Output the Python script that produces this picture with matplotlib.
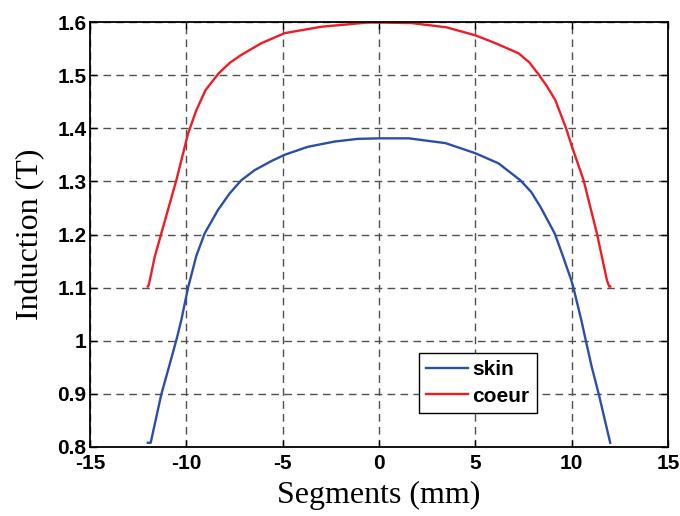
import numpy as np
import matplotlib
matplotlib.use('Agg')
import matplotlib.pyplot as plt

plt.rcParams['axes.unicode_minus'] = False

# induction profiles across the segment
x_coeur = [-12, -11.95, -11.64, -11.3, -10.52, -9.91, -9.48, -9.0, -8.33, -7.75, -7.15, -6.11,
           -4.9, -3.0, -0.6, 0, 1.7, 3.5, 5.0, 6.05, 7.25, 7.8, 8.25, 8.7, 9.15, 9.7, 10.02,
           10.62, 11.31, 11.83, 11.95, 12]
y_coeur = [1.102, 1.105, 1.158, 1.202, 1.302, 1.390, 1.434, 1.472, 1.503, 1.523, 1.538, 1.560,
           1.579, 1.591, 1.599, 1.599, 1.598, 1.590, 1.575, 1.560, 1.541, 1.524, 1.503, 1.480,
           1.453, 1.401, 1.365, 1.302, 1.202, 1.114, 1.102, 1.102]

x_skin = [-12, -11.85, -11.3, -10.9, -10.52, -10.26, -9.91, -9.48, -9.05, -8.36, -7.76, -7.15,
          -6.46, -5.6, -4.9, -3.7, -2.3, -1.1, 0, 1.55, 3.45, 5.0, 6.2, 7.34, 7.9, 8.38, 9.12,
          9.5, 9.98, 10.09, 10.5, 10.73, 11.04, 11.41, 12]
y_skin = [0.808, 0.808, 0.899, 0.951, 1.001, 1.039, 1.100, 1.160, 1.202, 1.246, 1.277, 1.302,
          1.321, 1.338, 1.350, 1.365, 1.375, 1.380, 1.381, 1.381, 1.372, 1.353, 1.334, 1.302,
          1.280, 1.252, 1.202, 1.164, 1.114, 1.100, 1.039, 1.001, 0.951, 0.899, 0.808]

xticks = [-15, -10, -5, 0, 5, 10, 15]
yticks = [0.8, 0.9, 1.0, 1.1, 1.2, 1.3, 1.4, 1.5, 1.6]
ylabels = ['0.8', '0.9', '1', '1.1', '1.2', '1.3', '1.4', '1.5', '1.6']

fig = plt.figure(figsize=(6.8, 5.16), dpi=100)
ax = fig.add_axes([90 / 680, 69 / 516, 578 / 680, 425 / 516])

ax.plot(x_skin, y_skin, color='#2b4ea6', lw=1.7, label='skin')
ax.plot(x_coeur, y_coeur, color='#ee1c25', lw=1.7, label='coeur')

ax.set_xlim(-15, 15)
ax.set_ylim(0.8, 1.6)
ax.set_xticks(xticks)
ax.set_xticklabels([str(t) for t in xticks])
ax.set_yticks(yticks)
ax.set_yticklabels(ylabels)

tick_fp = matplotlib.font_manager.FontProperties(family='Liberation Sans', weight='bold', size=15)
for lab in ax.get_xticklabels() + ax.get_yticklabels():
    lab.set_fontproperties(tick_fp)

ax.tick_params(direction='in', top=True, right=True, length=5, width=1)
ax.tick_params(axis='x', pad=5)
ax.tick_params(axis='y', pad=2.5)
ax.grid(True, color='#505050', linestyle=(0, (5.5, 3.8)), lw=1.0)
for s in ax.spines.values():
    s.set_linewidth(1.3)

ax.set_xlabel('Segments (mm)', family='Liberation Serif', fontsize=23, labelpad=6)
ax.set_ylabel('Induction (T)', family='Liberation Serif', fontsize=23, labelpad=9)

leg = ax.legend(loc='upper left', bbox_to_anchor=(419 / 680, 1 - 353 / 516),
                bbox_transform=fig.transFigure, borderaxespad=0, fancybox=False,
                edgecolor='black', framealpha=1,
                prop={'family': 'Liberation Sans', 'weight': 'bold', 'size': 15},
                handlelength=2.0, handletextpad=0.2, borderpad=0.35, labelspacing=0.35)
leg.get_frame().set_linewidth(1.0)

fig.savefig('out.png', dpi=100)
